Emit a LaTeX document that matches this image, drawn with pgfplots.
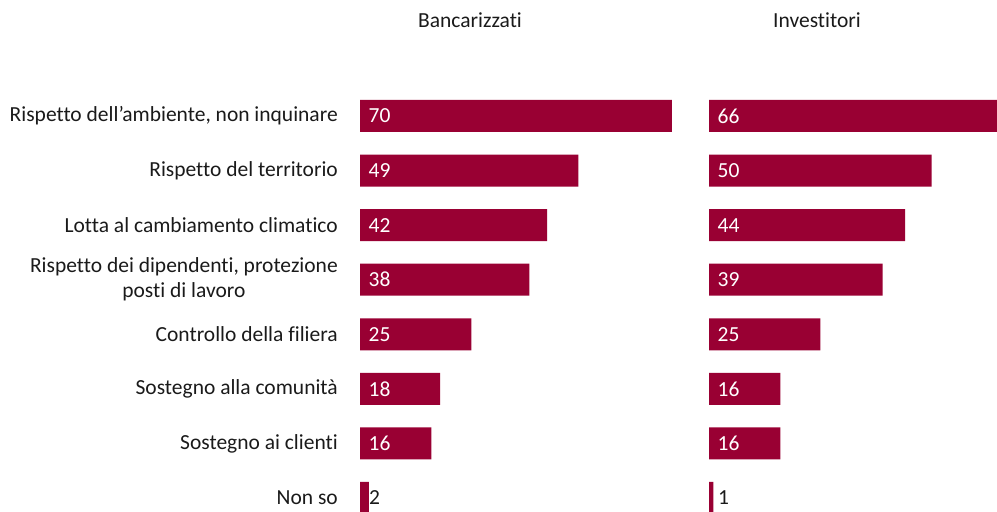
\documentclass[border=0pt]{standalone}
\usepackage{pgfplots}
\pgfplotsset{compat=1.18}
\usepackage{fontspec}
\setmainfont{Carlito}[Ligatures=NoCommon]
\definecolor{barc}{HTML}{990033}
\definecolor{txt}{HTML}{1A1A1A}
\newcommand{\fs}{\fontsize{21.5bp}{25bp}\selectfont}
\begin{document}
\begin{tikzpicture}
\path[use as bounding box, clip] (0bp,0bp) rectangle (997bp,-512bp);
\pgfplotsset{panel/.style={
  scale only axis, height=436.57bp, anchor=north west,
  xmin=0, ymin=-0.5, ymax=7.5, y dir=reverse, clip=false,
  axis line style={draw=none}, tick style={draw=none},
  xtick=\empty,
}}
\begin{axis}[panel, width=312bp, xmax=70, at={(360bp,-88.7bp)},
  ytick={0,...,7},
  yticklabels={{Rispetto dell’ambiente, non inquinare},{Rispetto del territorio},{Lotta al cambiamento climatico},{Rispetto dei dipendenti, protezione\\posti di lavoro},{Controllo della filiera},{Sostegno alla comunità},{Sostegno ai clienti},{Non so}},
  yticklabel style={font=\fs, align=center, text=txt, inner sep=0pt, xshift=-22bp}]
\addplot[xbar, fill=barc, draw=none, bar width=32bp, bar shift=0pt] coordinates {(70,0) (49,1) (42,2) (38,3) (25,4) (18,5) (16,6) (2,7)};
\addplot[draw=none, nodes near coords, point meta=explicit symbolic,
  nodes near coords style={anchor=west, inner sep=0pt, xshift=8.5bp, text=white, font=\fs}]
  coordinates {(0,0) [70] (0,1) [49] (0,2) [42] (0,3) [38] (0,4) [25] (0,5) [18] (0,6) [16]};
\addplot[draw=none, nodes near coords, point meta=explicit symbolic,
  nodes near coords style={anchor=west, inner sep=0pt, xshift=9bp, text=txt, font=\fs}]
  coordinates {(0,7) [2]};
\end{axis}
\begin{axis}[panel, width=294bp, xmax=66, at={(709bp,-88.7bp)}, ytick=\empty]
\addplot[xbar, fill=barc, draw=none, bar width=32bp, bar shift=0pt] coordinates {(66,0) (50,1) (44,2) (39,3) (25,4) (16,5) (16,6) (1,7)};
\addplot[draw=none, nodes near coords, point meta=explicit symbolic,
  nodes near coords style={anchor=west, inner sep=0pt, xshift=8.5bp, text=white, font=\fs}]
  coordinates {(0,0) [66] (0,1) [50] (0,2) [44] (0,3) [39] (0,4) [25] (0,5) [16] (0,6) [16]};
\addplot[draw=none, nodes near coords, point meta=explicit symbolic,
  nodes near coords style={anchor=west, inner sep=0pt, xshift=9bp, text=txt, font=\fs}]
  coordinates {(0,7) [1]};
\end{axis}
\node[font=\fs, text=txt, anchor=base] at (470bp,-27bp) {Bancarizzati};
\node[font=\fs, text=txt, anchor=base] at (817bp,-27bp) {Investitori};
\end{tikzpicture}
\end{document}
